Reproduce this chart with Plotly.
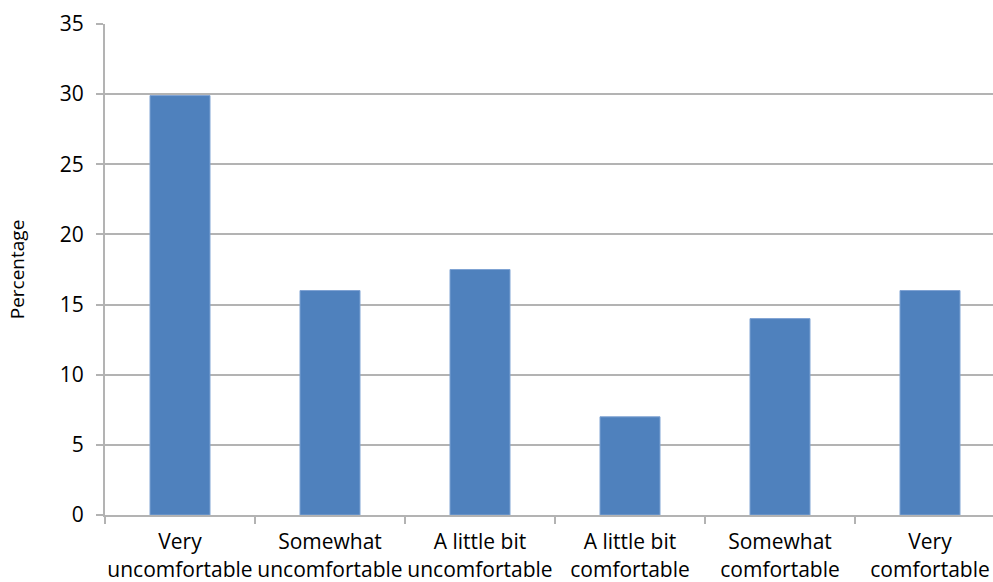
import plotly.graph_objects as go

categories = [
    "Very<br>uncomfortable",
    "Somewhat<br>uncomfortable",
    "A little bit<br>uncomfortable",
    "A little bit<br>comfortable",
    "Somewhat<br>comfortable",
    "Very<br>comfortable",
]
percentages = [29.9, 16.0, 17.5, 7.0, 14.0, 16.0]
y_ticks = [0, 5, 10, 15, 20, 25, 30, 35]

FONT = "Open Sans"
GRID = "#b3b3b3"

fig = go.Figure(
    go.Bar(
        x=categories,
        y=percentages,
        width=0.4,
        marker=dict(color="#4f81bd", line=dict(color="#7fa3d3", width=1)),
    )
)

fig.update_layout(
    width=993,
    height=582,
    margin=dict(l=105, r=0, t=24, b=67),
    paper_bgcolor="white",
    plot_bgcolor="white",
    showlegend=False,
    font=dict(family=FONT, color="#000000", size=21),
)

fig.update_xaxes(
    type="category",
    range=[-0.5, 5.42],
    automargin=False,
    tickangle=0,
    showgrid=False,
    showline=True,
    linecolor=GRID,
    linewidth=2,
    ticks="outside",
    tickson="boundaries",
    ticklen=7,
    tickwidth=2,
    tickcolor=GRID,
    tickfont=dict(family=FONT, size=21, color="#000"),
    ticklabelstandoff=7,
)

fig.update_yaxes(
    range=[0, 35],
    automargin=False,
    tickvals=y_ticks,
    showgrid=True,
    gridcolor=GRID,
    gridwidth=2,
    showline=True,
    linecolor=GRID,
    linewidth=2,
    ticks="outside",
    ticklen=7,
    tickwidth=2,
    tickcolor=GRID,
    zeroline=False,
    tickfont=dict(family=FONT, size=21, color="#000"),
    ticklabelstandoff=8,
    title=dict(text="Percentage", font=dict(family=FONT, size=19, color="#000"), standoff=30),
)

fig.write_html("out.html")
